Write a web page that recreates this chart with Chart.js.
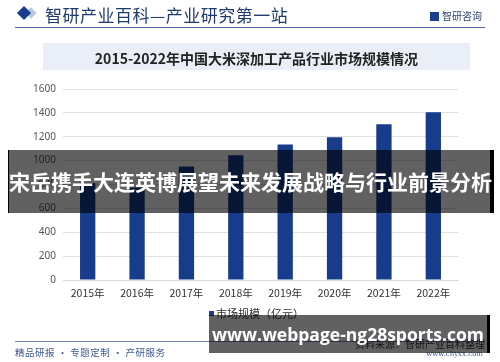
<!DOCTYPE html>
<html>
<head>
<meta charset="utf-8">
<script src="https://cdn.jsdelivr.net/npm/chart.js@4"></script>
<style>
    body { margin: 0; background: #fff; font-family: "Noto Sans CJK SC", "Noto Sans", sans-serif; }
    #wrap { position: relative; width: 500px; height: 362px; overflow: hidden; }
    #chart { position: absolute; left: 0; top: 0; }
    .abs { position: absolute; }
    #diamond2 { left: 27px; top: 9px; width: 8px; height: 8px; background: #b9c7e3; transform: rotate(45deg); }
    #diamond { left: 19px; top: 8px; width: 10px; height: 10px; background: #1a3d8f; transform: rotate(45deg); }
    #head { left: 45px; top: 2px; font-size: 17px; color: #1f3a70; letter-spacing: 0.5px; }
    #logo { left: 430px; top: 8px; font-size: 10px; color: #2d4470; }
    #logo span { display: inline-block; width: 9px; height: 9px; background: #1a3d8f; margin-right: 3px; vertical-align: -1px; }
    #hline { left: 15px; top: 27px; width: 470px; height: 1px; background: #4a66a0; }
    #titlebox { left: 43px; top: 43px; width: 427px; height: 27px; background: #eaeff7; }
    #title { left: 43px; top: 48px; width: 427px; text-align: center; font-size: 14px; font-weight: bold; color: #222; }
    #legend { left: 209px; top: 305px; font-size: 11px; color: #333; }
    #legend span { display: inline-block; width: 5px; height: 5px; background: #1a3d8f; margin-right: 2px; vertical-align: 2px; }
    #bline { left: 15px; top: 341px; width: 470px; height: 1px; background: #6f86b5; }
    #slogan { left: 15px; top: 345px; font-size: 9.5px; color: #3d5a8f; letter-spacing: 0.5px; }
    #source { right: 15px; top: 336px; font-size: 10px; color: #333; }
    #site { right: 17px; top: 350px; font-size: 7px; color: #3d5a8f; font-family: "DejaVu Serif", serif; }
    #band1 { left: 8px; top: 150px; width: 481px; height: 63px; background: rgba(0,0,0,0.62); border-left: 1px solid #000; border-right: 4px solid #000; }
    #band1 div { color: #fff; font-size: 21px; font-weight: bold; text-align: center; line-height: 63px; white-space: nowrap; }
    #band2 { left: 209px; top: 315px; width: 278px; height: 38px; background: rgba(0,0,0,0.62); border-right: 3px solid #000; }
    #band2 div { color: #fff; font-size: 17.5px; font-weight: bold; text-align: center; line-height: 38px; font-family: "Open Sans", "DejaVu Sans", sans-serif; white-space: nowrap; }
</style>
</head>
<body>
<div id="wrap">
    <canvas id="chart" width="500" height="362"></canvas>
    <div class="abs" id="diamond2"></div>
    <div class="abs" id="diamond"></div>
    <div class="abs" id="head">智研产业百科—产业研究第一站</div>
    <div class="abs" id="logo"><span></span>智研咨询</div>
    <div class="abs" id="hline"></div>
    <div class="abs" id="titlebox"></div>
    <div class="abs" id="title">2015-2022年中国大米深加工产品行业市场规模情况</div>
    <div class="abs" id="legend"><span></span>市场规模（亿元）</div>
    <div class="abs" id="bline"></div>
    <div class="abs" id="slogan">精品研报 · 专题定制 · 产研服务</div>
    <div class="abs" id="source">资料来源：智研产业百科整理</div>
    <div class="abs" id="site">www.chyxx.com</div>
    <div class="abs" id="band1"><div>宋岳携手大连英博展望未来发展战略与行业前景分析</div></div>
    <div class="abs" id="band2"><div>www.webpage-ng28sports.com</div></div>
</div>
<script>
// data
const years = ['2015年', '2016年', '2017年', '2018年', '2019年', '2020年', '2021年', '2022年'];
const marketSize = [810, 775, 950, 1045, 1135, 1195, 1305, 1405];
const yTicks = [0, 200, 400, 600, 800, 1000, 1200, 1400, 1600];

const ctx = document.getElementById('chart').getContext('2d');
const chart = new Chart(ctx, {
    type: 'bar',
    data: {
        labels: years,
        datasets: [{
            label: '市场规模（亿元）',
            data: marketSize,
            backgroundColor: '#173c8c',
            categoryPercentage: 1,
            barPercentage: 0.31
        }]
    },
    options: {
        responsive: false,
        animation: false,
        layout: { padding: { top: 89, right: 42, bottom: 50, left: 0 } },
        plugins: { legend: { display: false }, tooltip: { enabled: false } },
        scales: {
            x: {
                grid: { display: false, drawTicks: false },
                border: { color: '#d9d9d9' },
                ticks: { color: '#333', font: { size: 10.5, family: 'Noto Sans CJK SC' }, padding: 7 },
                afterFit: s => { s.height = 32; }
            },
            y: {
                min: 0,
                max: 1600,
                afterBuildTicks: s => { s.ticks = yTicks.map(v => ({ value: v })); },
                grid: { color: '#e0e0e0', drawTicks: false },
                border: { display: false },
                ticks: { color: '#555', font: { size: 10, family: 'Noto Sans' }, padding: 7, callback: v => String(v) },
                afterFit: s => { s.width = 63; }
            }
        }
    }
});
</script>
</body>
</html>
